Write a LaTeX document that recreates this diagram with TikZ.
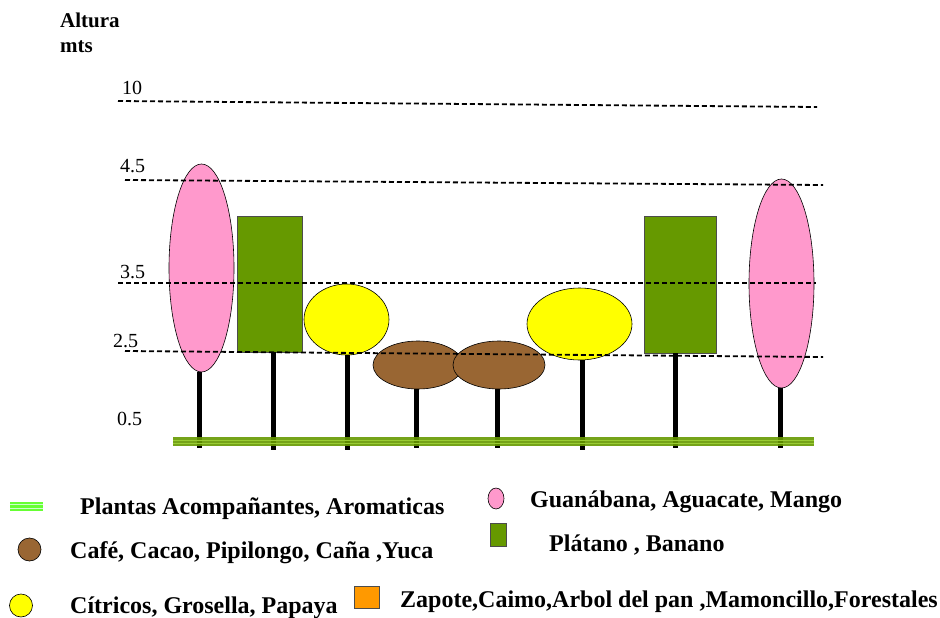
\documentclass[tikz,border=0pt]{standalone}
\usepackage{fontspec}
\setmainfont{Liberation Serif}
\usetikzlibrary{shapes.geometric}
\definecolor{pinkc}{HTML}{FF99CC}
\definecolor{greenc}{HTML}{669900}
\definecolor{yellowc}{HTML}{FFFF00}
\definecolor{brownc}{HTML}{996633}
\definecolor{orangec}{HTML}{FF9900}
\definecolor{groundlight}{HTML}{99CC33}
\definecolor{legline}{HTML}{66FF33}
\definecolor{leglight}{HTML}{CCFFCC}
\tikzset{
  crown/.style={draw=black, line width=0.6pt, inner sep=0pt, ellipse},
  box/.style={draw=black!70, line width=0.6pt, inner sep=0pt, rectangle, fill=greenc},
  trunk/.style={line width=5pt, black},
  level/.style={dashed, dash pattern=on 5pt off 3pt, line width=1.8pt, black},
  num/.style={anchor=base west, inner sep=0pt, font=\fontsize{20}{24}\selectfont},
  leg/.style={anchor=base west, inner sep=0pt, font=\bfseries\fontsize{24}{28}\selectfont},
  ttl/.style={anchor=base west, inner sep=0pt, font=\bfseries\fontsize{21}{25}\selectfont},
}
\begin{document}
\begin{tikzpicture}[x=1pt, y=-1pt]
\useasboundingbox (0,0) rectangle (940,618);
% titles
\node[ttl] (alt) at (60,28) {Altura};
\node[ttl] (mts) at (60,53) {mts};
% level labels
\node[num] (l10) at (122,95) {10};
\node[num] (l45) at (120,172) {4.5};
\node[num] (l35) at (120,278) {3.5};
\node[num] (l25) at (113,347) {2.5};
\node[num] (l05) at (117,425) {0.5};
% ground coordinates
\coordinate (gL) at (173,441.5);
\coordinate (gR) at (814,441.5);
% crowns
\node[crown, fill=pinkc, minimum width=65pt, minimum height=208pt] (t1) at (201.5,268) {};
\node[box, minimum width=65pt, minimum height=136pt] (t2) at (269.5,284) {};
\node[crown, fill=yellowc, minimum width=85pt, minimum height=71pt] (t3) at (346.5,319.5) {};
\node[crown, fill=brownc, minimum width=90pt, minimum height=48pt] (t4) at (418,365) {};
\node[crown, fill=brownc, minimum width=92pt, minimum height=48pt] (t5) at (499,365) {};
\node[crown, fill=yellowc, minimum width=105pt, minimum height=72pt] (t6) at (579.5,324) {};
\node[box, minimum width=72pt, minimum height=137pt] (t7) at (680,284.5) {};
\node[crown, fill=pinkc, minimum width=65pt, minimum height=209pt] (t8) at (781.5,283.5) {};
% trunk feet
\coordinate (f1) at (199,448);
\coordinate (f2) at (273,450);
\coordinate (f3) at (347,450);
\coordinate (f4) at (416,448);
\coordinate (f5) at (497,448);
\coordinate (f6) at (582,450);
\coordinate (f7) at (675,448);
\coordinate (f8) at (780,448);
\draw[trunk] (t1.south -| f1) -- (f1);
\draw[trunk] (t2.south -| f2) -- (f2);
\draw[trunk] (t3.south -| f3) -- (f3);
\draw[trunk] (t4.south -| f4) -- (f4);
\draw[trunk] (t5.south -| f5) -- (f5);
\draw[trunk] (t6.south -| f6) -- (f6);
\draw[trunk] (t7.south -| f7) -- (f7);
\draw[trunk] (t8.south -| f8) -- (f8);
% ground
\draw[greenc, line width=9pt, opacity=0.9] (gL) -- (gR);
\draw[groundlight, line width=0.8pt] ([yshift=-2pt]gL) -- ([yshift=-2pt]gR);
\draw[groundlight, line width=0.8pt] ([yshift=1.3pt]gL) -- ([yshift=1.3pt]gR);
% level lines
\coordinate (d10a) at (118,101); \coordinate (d10b) at (817,107);
\coordinate (d45a) at (125,180); \coordinate (d45b) at (823,185);
\coordinate (d35a) at (118,283); \coordinate (d35b) at (816,283);
\coordinate (d25a) at (125,351); \coordinate (d25b) at (823,357);
\draw[level] (d10a) -- (d10b);
\draw[level] (d45a) -- (d45b);
\draw[level] (d35a) -- (d35b);
\draw[level] (d25a) -- (d25b);
% legend
\coordinate (lgA) at (10,506.5);
\coordinate (lgB) at (43,506.5);
\draw[legline, line width=9pt] (lgA) -- (lgB);
\draw[leglight, line width=0.8pt] ([yshift=-2.2pt]lgA) -- ([yshift=-2.2pt]lgB);
\draw[leglight, line width=0.8pt] ([yshift=2pt]lgA) -- ([yshift=2pt]lgB);
\node[leg] (txA) at (80,514) {Plantas Acompañantes, Aromaticas};
\node[crown, fill=brownc, minimum width=23pt, minimum height=23pt] (lb) at (29.5,549.5) {};
\node[leg] (txB) at (70,558) {Café, Cacao, Pipilongo, Caña ,Yuca};
\node[crown, fill=yellowc, minimum width=23pt, minimum height=23pt] (ly) at (21,605.5) {};
\node[leg] (txC) at (70,613) {Cítricos, Grosella, Papaya};
\node[box, fill=orangec, minimum width=25pt, minimum height=22pt] (lo) at (367,597) {};
\node[leg] (txD) at (400,607) {Zapote,Caimo,Arbol del pan ,Mamoncillo,Forestales};
\node[crown, fill=pinkc, minimum width=16pt, minimum height=21pt] (lp) at (496,498.5) {};
\node[leg] (txE) at (530,507) {Guanábana, Aguacate, Mango};
\node[box, minimum width=16pt, minimum height=23pt] (lg) at (498,534.5) {};
\node[leg] (txF) at (549,551) {Plátano , Banano};
\end{tikzpicture}
\end{document}
